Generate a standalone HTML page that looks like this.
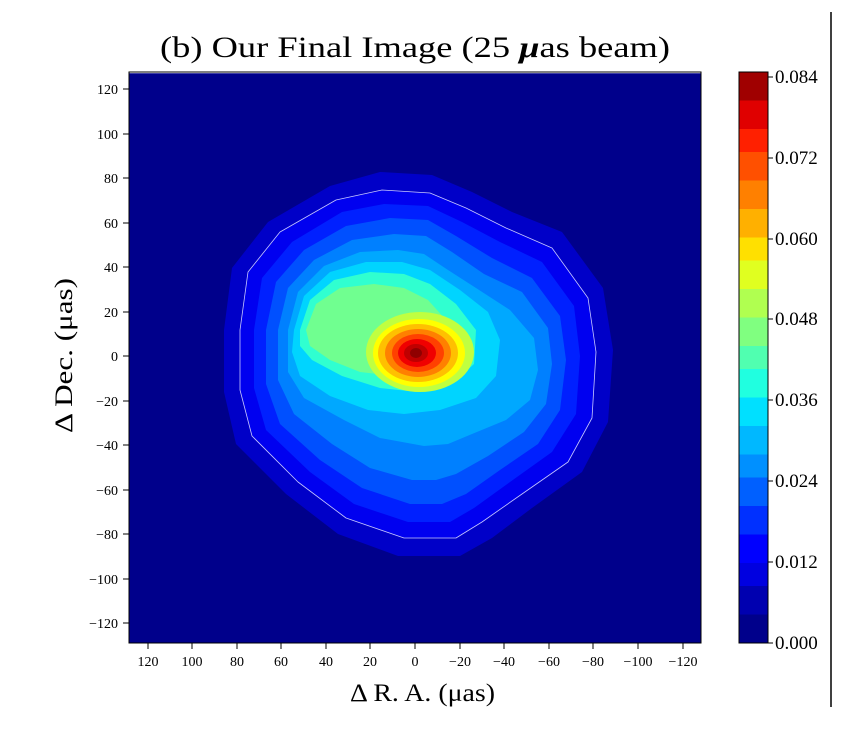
<!DOCTYPE html>
<html><head><style>
body{margin:0;background:#fff;}
svg{display:block;font-family:"Liberation Serif",serif;}
</style></head><body>
<svg width="851" height="729" viewBox="0 0 851 729">
<rect width="851" height="729" fill="#fff"/>
<text x="160" y="57" font-size="30" textLength="510" lengthAdjust="spacingAndGlyphs">(b) Our Final Image (25 <tspan font-weight="bold" font-style="italic">μ</tspan>as beam)</text>
<defs><clipPath id="c"><rect x="129" y="72" width="572" height="571"/></clipPath></defs>
<g clip-path="url(#c)" stroke-linejoin="round">
<rect x="129" y="72" width="572" height="571" fill="#00008b"/>
<polygon fill="#0000c8" points="224,330 232,268 268,222 330,186 380,172 432,175 472,192 512,212 562,232 603,288 613,350 608,422 582,472 532,508 492,538 460,556 398,556 338,534 286,494 236,444 224,392"/>
<polygon fill="#0000f0" stroke="#c8c8ff" stroke-width="0.8" points="240,330 248,272 280,232 336,200 382,190 430,193 466,208 506,228 552,248 588,298 596,352 592,418 568,462 522,494 482,522 456,538 404,538 346,518 298,482 252,436 240,390"/>
<polygon fill="#0020ff" points="254,330 262,278 292,242 342,212 384,204 428,206 462,222 500,242 542,262 574,306 580,356 576,414 552,452 510,482 474,508 450,522 408,522 354,504 310,472 266,430 254,388"/>
<polygon fill="#0050ff" points="266,330 276,282 304,250 346,226 390,218 428,220 456,236 492,258 532,278 560,316 566,360 560,410 538,444 500,470 466,494 442,504 410,504 362,488 320,460 280,424 266,384"/>
<polygon fill="#0080ff" points="278,330 288,288 314,260 352,240 394,234 426,236 452,252 484,274 522,292 548,328 552,364 546,404 524,432 488,456 456,474 436,480 412,480 370,468 332,444 294,414 278,380"/>
<polygon fill="#00a8ff" points="288,330 298,292 324,266 360,252 398,250 424,254 448,270 476,288 510,310 534,338 538,370 530,400 506,420 472,434 448,444 424,446 380,438 344,420 304,398 288,372"/>
<polygon fill="#00d4ff" points="294,330 304,296 330,272 366,262 402,262 430,270 460,290 488,312 500,340 496,376 476,398 440,410 404,414 368,410 330,396 300,376 292,352"/>
<polygon fill="#30ffd0" points="300,330 310,300 334,280 370,272 404,274 430,284 456,304 476,330 474,364 452,384 418,392 380,388 342,376 312,360 300,346"/>
<polygon fill="#70ff90" points="306,330 316,304 340,288 374,284 404,288 428,300 446,320 450,350 430,370 396,376 360,372 330,360 310,346"/>
<ellipse cx="420" cy="352" rx="54" ry="40" fill="#c0ff40"/>
<ellipse cx="419" cy="353" rx="46" ry="34" fill="#ffff00"/>
<ellipse cx="418" cy="353" rx="40" ry="29" fill="#ffc000"/>
<ellipse cx="418" cy="353" rx="33" ry="24" fill="#ff8000"/>
<ellipse cx="418" cy="353" rx="26" ry="19" fill="#ff4000"/>
<ellipse cx="417" cy="353" rx="19" ry="14" fill="#f00000"/>
<ellipse cx="416" cy="353" rx="12" ry="9" fill="#c00000"/>
<ellipse cx="416" cy="353" rx="6" ry="5" fill="#900000"/>
</g>
<line x1="129" y1="72.5" x2="701" y2="72.5" stroke="#fff" stroke-width="1.5"/>
<rect x="129" y="72" width="572" height="571" fill="none" stroke="#000" stroke-width="1"/>
<g stroke="#000" stroke-width="1">
<line x1="123" y1="89" x2="129" y2="89"/><line x1="123" y1="134" x2="129" y2="134"/><line x1="123" y1="178" x2="129" y2="178"/><line x1="123" y1="223" x2="129" y2="223"/><line x1="123" y1="267" x2="129" y2="267"/><line x1="123" y1="312" x2="129" y2="312"/><line x1="123" y1="356" x2="129" y2="356"/><line x1="123" y1="401" x2="129" y2="401"/><line x1="123" y1="445" x2="129" y2="445"/><line x1="123" y1="490" x2="129" y2="490"/><line x1="123" y1="534" x2="129" y2="534"/><line x1="123" y1="579" x2="129" y2="579"/><line x1="123" y1="623" x2="129" y2="623"/>
</g>
<g font-size="14" text-anchor="end">
<text x="118" y="94">120</text><text x="118" y="139">100</text><text x="118" y="183">80</text><text x="118" y="228">60</text><text x="118" y="272">40</text><text x="118" y="317">20</text><text x="118" y="361">0</text><text x="118" y="406">−20</text><text x="118" y="450">−40</text><text x="118" y="495">−60</text><text x="118" y="539">−80</text><text x="118" y="584">−100</text><text x="118" y="628">−120</text>
</g>
<g stroke="#000">
<line x1="148" y1="643" x2="148" y2="649"/><line x1="192" y1="643" x2="192" y2="649"/><line x1="237" y1="643" x2="237" y2="649"/><line x1="281" y1="643" x2="281" y2="649"/><line x1="326" y1="643" x2="326" y2="649"/><line x1="370" y1="643" x2="370" y2="649"/><line x1="415" y1="643" x2="415" y2="649"/><line x1="460" y1="643" x2="460" y2="649"/><line x1="504" y1="643" x2="504" y2="649"/><line x1="549" y1="643" x2="549" y2="649"/><line x1="593" y1="643" x2="593" y2="649"/><line x1="638" y1="643" x2="638" y2="649"/><line x1="683" y1="643" x2="683" y2="649"/>
</g>
<g font-size="14" text-anchor="middle">
<text x="148" y="666">120</text><text x="192" y="666">100</text><text x="237" y="666">80</text><text x="281" y="666">60</text><text x="326" y="666">40</text><text x="370" y="666">20</text><text x="415" y="666">0</text><text x="460" y="666">−20</text><text x="504" y="666">−40</text><text x="549" y="666">−60</text><text x="593" y="666">−80</text><text x="638" y="666">−100</text><text x="683" y="666">−120</text>
</g>
<text x="350" y="701" font-size="25" textLength="145" lengthAdjust="spacingAndGlyphs">Δ R. A.  (μas)</text>
<text transform="translate(72,433) rotate(-90)" font-size="25" textLength="155" lengthAdjust="spacingAndGlyphs">Δ Dec.  (μas)</text>
<defs><linearGradient id="jet" x1="0" y1="1" x2="0" y2="0">
<stop offset="0" stop-color="#00008b"/><stop offset="0.05" stop-color="#00008b"/>
<stop offset="0.05" stop-color="#0000b0"/><stop offset="0.1" stop-color="#0000b0"/>
<stop offset="0.1" stop-color="#0000e0"/><stop offset="0.14" stop-color="#0000e0"/>
<stop offset="0.14" stop-color="#0000ff"/><stop offset="0.19" stop-color="#0000ff"/>
<stop offset="0.19" stop-color="#0030ff"/><stop offset="0.24" stop-color="#0030ff"/>
<stop offset="0.24" stop-color="#0060ff"/><stop offset="0.29" stop-color="#0060ff"/>
<stop offset="0.29" stop-color="#0090ff"/><stop offset="0.33" stop-color="#0090ff"/>
<stop offset="0.33" stop-color="#00b8ff"/><stop offset="0.38" stop-color="#00b8ff"/>
<stop offset="0.38" stop-color="#00e0ff"/><stop offset="0.43" stop-color="#00e0ff"/>
<stop offset="0.43" stop-color="#20ffe0"/><stop offset="0.48" stop-color="#20ffe0"/>
<stop offset="0.48" stop-color="#50ffb0"/><stop offset="0.52" stop-color="#50ffb0"/>
<stop offset="0.52" stop-color="#80ff80"/><stop offset="0.57" stop-color="#80ff80"/>
<stop offset="0.57" stop-color="#b0ff50"/><stop offset="0.62" stop-color="#b0ff50"/>
<stop offset="0.62" stop-color="#e0ff20"/><stop offset="0.67" stop-color="#e0ff20"/>
<stop offset="0.67" stop-color="#ffe000"/><stop offset="0.71" stop-color="#ffe000"/>
<stop offset="0.71" stop-color="#ffb000"/><stop offset="0.76" stop-color="#ffb000"/>
<stop offset="0.76" stop-color="#ff8000"/><stop offset="0.81" stop-color="#ff8000"/>
<stop offset="0.81" stop-color="#ff5000"/><stop offset="0.86" stop-color="#ff5000"/>
<stop offset="0.86" stop-color="#ff2000"/><stop offset="0.9" stop-color="#ff2000"/>
<stop offset="0.9" stop-color="#e00000"/><stop offset="0.95" stop-color="#e00000"/>
<stop offset="0.95" stop-color="#a00000"/><stop offset="1" stop-color="#a00000"/>
</linearGradient></defs>
<rect x="739" y="72" width="29" height="571" fill="url(#jet)" stroke="#000" stroke-width="1"/>
<g stroke="#000">
<line x1="768" y1="77" x2="773" y2="77"/><line x1="768" y1="158" x2="773" y2="158"/><line x1="768" y1="239" x2="773" y2="239"/><line x1="768" y1="319" x2="773" y2="319"/><line x1="768" y1="400" x2="773" y2="400"/><line x1="768" y1="481" x2="773" y2="481"/><line x1="768" y1="562" x2="773" y2="562"/><line x1="768" y1="643" x2="773" y2="643"/>
</g>
<g font-size="19">
<text x="775" y="83">0.084</text><text x="775" y="164">0.072</text><text x="775" y="245">0.060</text><text x="775" y="325">0.048</text><text x="775" y="406">0.036</text><text x="775" y="487">0.024</text><text x="775" y="568">0.012</text><text x="775" y="649">0.000</text>
</g>
<rect x="831" y="0" width="20" height="729" fill="#fff"/>
<line x1="831" y1="12" x2="831" y2="707" stroke="#000" stroke-width="1.5"/>
</svg>
</body></html>
